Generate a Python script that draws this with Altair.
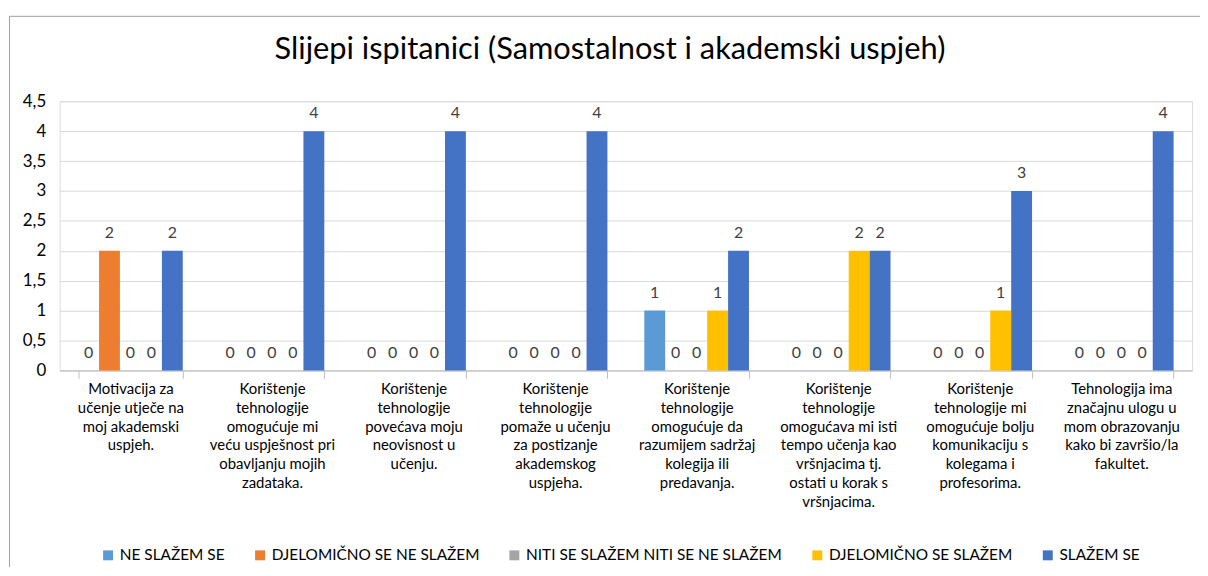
import altair as alt
import pandas as pd

title_text = "Slijepi ispitanici (Samostalnost i akademski uspjeh)"
categories = [
    "Motivacija za|učenje utječe na|moj akademski|uspjeh.",
    "Korištenje|tehnologije|omogućuje mi|veću uspješnost pri|obavljanju mojih|zadataka.",
    "Korištenje|tehnologije|povećava moju|neovisnost u|učenju.",
    "Korištenje|tehnologije|pomaže u učenju|za postizanje|akademskog|uspjeha.",
    "Korištenje|tehnologije|omogućuje da|razumijem sadržaj|kolegija ili|predavanja.",
    "Korištenje|tehnologije|omogućava mi isti|tempo učenja kao|vršnjacima  tj.|ostati u korak s|vršnjacima.",
    "Korištenje|tehnologije mi|omogućuje bolju|komunikaciju s|kolegama i|profesorima.",
    "Tehnologija ima|značajnu ulogu u|mom obrazovanju|kako bi završio/la|fakultet.",
]
series = ["NE SLAŽEM SE", "DJELOMIČNO SE NE SLAŽEM", "NITI SE SLAŽEM NITI SE NE SLAŽEM",
          "DJELOMIČNO SE SLAŽEM", "SLAŽEM SE"]
colors = ["#5B9BD5", "#ED7D31", "#A5A5A5", "#FFC000", "#4472C4"]

ne_slazem = [0, 0, 0, 0, 1, 0, 0, 0]
djel_ne_slazem = [2, 0, 0, 0, 0, 0, 0, 0]
niti = [0, 0, 0, 0, 0, 0, 0, 0]
djel_slazem = [0, 0, 0, 0, 1, 2, 1, 0]
slazem = [2, 4, 4, 4, 2, 2, 3, 4]

values = [ne_slazem, djel_ne_slazem, niti, djel_slazem, slazem]
rows = []
for s, vals in zip(series, values):
    for c, v in zip(categories, vals):
        rows.append({"cat": c, "series": s, "value": v})
df = pd.DataFrame(rows)

FONT = "Lato"

x = alt.X("cat:N", sort=categories, title=None,
          scale=alt.Scale(paddingInner=0.26, paddingOuter=0.13),
          axis=alt.Axis(labelAngle=0, labelExpr="split(datum.label, '|')",
                        labelFont=FONT, labelFontSize=15, labelColor="#000000",
                        labelLineHeight=19, labelBaseline="top", labelPadding=3,
                        labelLimit=200, tickBand="extent", tickSize=8,
                        tickColor="#bfbfbf", domainColor="#bfbfbf", grid=False))
xo = alt.XOffset("series:N", sort=series, scale=alt.Scale(paddingInner=0, paddingOuter=0))
y = alt.Y("value:Q", title=None,
          scale=alt.Scale(domain=[0, 4.5]),
          axis=alt.Axis(values=[0, 0.5, 1, 1.5, 2, 2.5, 3, 3.5, 4, 4.5],
                        labelExpr="replace(toString(datum.value), '.', ',')",
                        labelFont=FONT, labelFontSize=17, labelColor="#000000",
                        labelPadding=14, ticks=False, domain=False,
                        gridColor="#d9d9d9", gridWidth=1))
color = alt.Color("series:N", sort=series,
                  scale=alt.Scale(domain=series, range=colors),
                  legend=alt.Legend(title=None, orient="none", direction="horizontal",
                                    legendX=41, legendY=449,
                                    symbolType="square", symbolSize=100,
                                    symbolStrokeWidth=0, labelFont=FONT,
                                    labelFontSize=15.5, labelColor="#000000",
                                    columnPadding=27, labelOffset=4, labelLimit=400))

bars = alt.Chart(df).mark_bar(size=21).encode(x=x, xOffset=xo, y=y, color=color)
labels = alt.Chart(df).mark_text(baseline="bottom", dy=-10, font=FONT, fontSize=16,
                                 color="#404040").encode(
    x=x, xOffset=xo, y=y, text=alt.Text("value:Q"))

frame_df = pd.DataFrame({"k": [0]})
frame_left = alt.Chart(frame_df).mark_rule(color="#a0a0a0", strokeWidth=1).encode(
    x=alt.value(-50.5), y=alt.value(-85.5), y2=alt.value(480))
frame_top = alt.Chart(frame_df).mark_rule(color="#a0a0a0", strokeWidth=1).encode(
    x=alt.value(-50.5), x2=alt.value(1160), y=alt.value(-85.5))

title_df = pd.DataFrame({"t": [title_text]})
title = alt.Chart(title_df).mark_text(font=FONT, fontSize=31, color="#000000",
                                      align="center", baseline="middle").encode(
    x=alt.value(554), y=alt.value(-52), text="t:N")

chart = alt.layer(frame_left, frame_top, title, bars, labels).properties(
    width=1140, height=271,
    autosize=alt.AutoSizeParams(type="none"),
    padding={"left": 52, "top": 92, "right": 8, "bottom": 196},
).configure_view(stroke=None).configure(background="white")

chart.save("out.html", embed_options={"renderer": "svg", "actions": False})
